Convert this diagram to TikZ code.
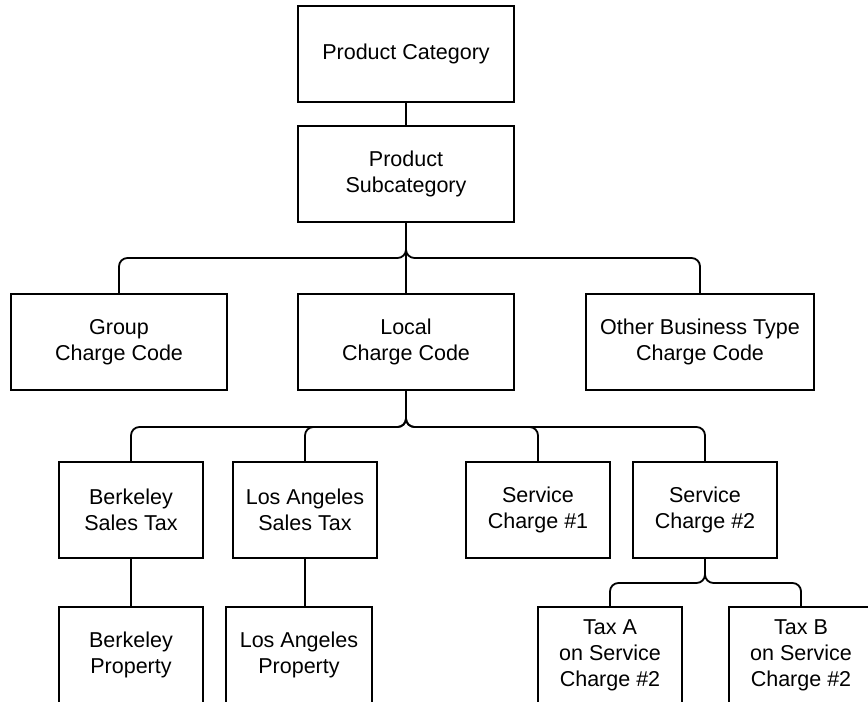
\documentclass[tikz,border=0pt]{standalone}
\usepackage{fontspec}
\setmainfont{Liberation Sans}
\tikzset{
  box/.style={draw, line width=1.3pt, align=center, inner sep=0pt,
    font=\fontsize{15.3}{18.5}\selectfont},
  bigbox/.style={box, minimum width=5.4cm, minimum height=2.4cm},
  smallbox/.style={box, minimum width=3.6cm, minimum height=2.4cm},
  link/.style={line width=1.3pt, rounded corners=6pt}
}
\begin{document}
\begin{tikzpicture}[x=0.025cm, y=-0.025cm]
    \useasboundingbox (0,0) rectangle (868,702);
    \clip (0,0) rectangle (868,702);

    % Product levels
    % ---------------------
    \node[bigbox] (cat) at (406,54) {Product Category};
    \node[bigbox] (sub) at (406,174) {Product\\Subcategory};
    \draw[link] (cat) -- (sub);

    % Charge codes
    % ---------------------
    \node[bigbox] (grp) at (119,342) {Group\\Charge Code};
    \node[bigbox] (lcl) at (406,342) {Local\\Charge Code};
    \node[bigbox, minimum width=5.7cm] (oth) at (700,342) {Other Business Type\\Charge Code};
    \coordinate (subbus) at (406,258);
    \draw[link] (sub) -- (lcl);
    \draw[link] (sub.south) -- (subbus) -| (grp.north);
    \draw[link] (sub.south) -- (subbus) -| (oth.north);

    % Local charges
    % ---------------------
    \node[smallbox] (bst) at (131,510) {Berkeley\\Sales Tax};
    \node[smallbox] (lst) at (305,510) {Los Angeles\\Sales Tax};
    \node[smallbox] (sc1) at (538,510) {Service\\Charge \#1};
    \node[smallbox] (sc2) at (705,510) {Service\\Charge \#2};
    \coordinate (lclbus) at (406,427);
    \foreach \kid in {bst,lst,sc1,sc2}
      \draw[link] (lcl.south) -- (lclbus) -| (\kid.north);

    % Bottom row (cut off by the page)
    % ---------------------
    \node[smallbox] (bpr) at (131,655) {Berkeley\\Property};
    \node[smallbox, minimum width=3.65cm] (lpr) at (299,655) {Los Angeles\\Property};
    \node[smallbox] (txa) at (610,655) {Tax A\\on Service\\Charge \#2};
    \node[smallbox] (txb) at (801,655) {Tax B\\on Service\\Charge \#2};
    \draw[link] (bst.south) -- (bst.south |- bpr.north);
    \draw[link] (lst.south) -- (lst.south |- lpr.north);
    \coordinate (scbus) at (705,583);
    \foreach \kid in {txa,txb}
      \draw[link] (sc2.south) -- (scbus) -| (\kid.north);
  \end{tikzpicture}
\end{document}
